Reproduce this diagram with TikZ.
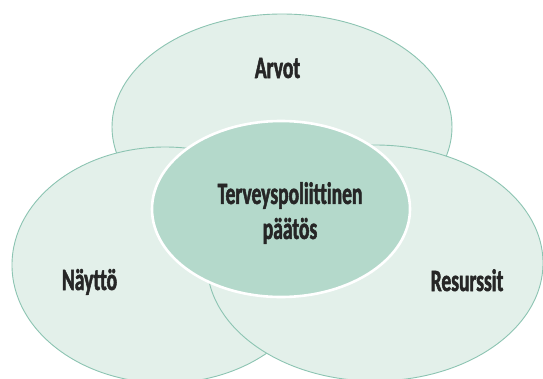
\documentclass[tikz,border=0pt]{standalone}
\usepackage{fontspec}
\setmainfont{Carlito}[FakeStretch=0.63, Ligatures=NoCommon, BoldFeatures={FakeBold=1.6}]
\usetikzlibrary{shapes.geometric}
\definecolor{mintfill}{HTML}{E3F0EA}
\definecolor{mintline}{HTML}{8CC4B2}
\definecolor{corefill}{HTML}{B4D9CB}
\tikzset{
  circ/.style = {fill=mintfill, draw=mintline, line width=0.9pt},
  lbl/.style = {align=center, inner sep=0pt, text=black!85,
    font=\fontsize{31}{35}\selectfont\bfseries},
  core/.style = {ellipse, fill=corefill, draw=white, line width=2.6pt,
    minimum width=258pt, minimum height=176pt, inner sep=0pt}}

\begin{document}
\begin{tikzpicture}[x=1pt,y=-1pt]
\useasboundingbox (0,0) rectangle (543,378);
\fill[white] (0,0) rectangle (543,378);

% three overlapping circles
\draw[circ] (282,127) ellipse [x radius=170, y radius=113];
\draw[circ] (165,265) ellipse [x radius=153, y radius=118];
\draw[circ] (375,263) ellipse [x radius=168, y radius=118];

\node [core] (core) at (281,209) {};
\node [lbl] (paatos) at (290,213) {Terveyspoliittinen\\päätös};

\node [lbl, anchor=base] (arvot) at (277.5,78) {Arvot};
\node [lbl, anchor=base] (naytto) at (89.5,290) {Näyttö};
\node [lbl, anchor=base] (resurssit) at (467,291) {Resurssit};
\end{tikzpicture}
\end{document}
